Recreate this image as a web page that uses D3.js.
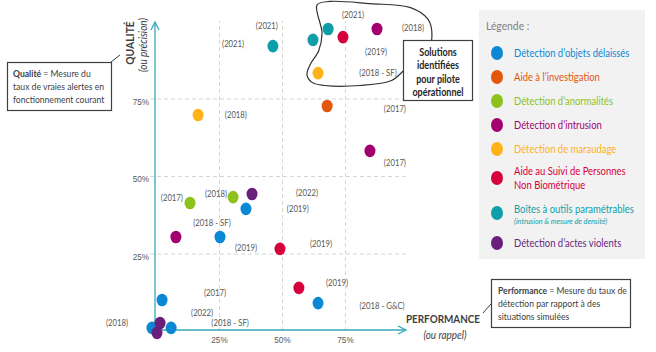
<!DOCTYPE html>
<html>
<head>
<meta charset="utf-8">
<script src="https://cdn.jsdelivr.net/npm/d3@7"></script>
<style>
  body { margin: 0; background: #fff; }
  svg { font-family: Lato, "Open Sans", sans-serif; }
  .grid line { stroke: #d6d6d6; stroke-dasharray: 4,3; }
  .grid path { display: none; }
  .tick text { fill: #595959; font-size: 9.5px; }
  .lbl { fill: #595959; font-size: 9px; }
</style>
</head>
<body>
<div id="chart"></div>
<script>

// categories (legend order) and colours
var categories = ["Détection d’objets délaissés", "Aide à l’investigation", "Détection d’anormalités",
                  "Détection d’intrusion", "Détection de maraudage",
                  "Aide au Suivi de Personnes|Non Biométrique", "Boîtes à outils paramétrables",
                  "Détection d’actes violents"];
var colors = ["#0b88d4", "#e2570c", "#8dc21c", "#a3006f", "#ffb319", "#d6003d", "#0e9ea9", "#6a1f7d"];

// points per category : [performance %, qualité %]
var objets = [[35.7, 39.4], [25.4, 30.3], [64.3, 9.0], [2.4, 10], [-1.6, 1], [6.0, 1]];
var investigation = [[67.9, 72.6]];
var anormalites = [[13.5, 41.3], [30.6, 43.2]];
var intrusion = [[87.7, 97.4], [84.9, 58.1], [7.9, 30.3]];
var maraudage = [[64.3, 83.2], [16.7, 69.7]];
var suivi = [[74.2, 94.8], [49.2, 26.5], [56.7, 13.9]];
var boites = [[46.4, 91.9], [62.3, 93.9], [68.3, 97.4]];
var violents = [[38.1, 44.2], [1.6, 2.6], [0.4, -0.6]];
var series = [objets, investigation, anormalites, intrusion, maraudage, suivi, boites, violents];

// year labels and where they sit (in % units)
var labelTexts = ["(2021)", "(2021)", "(2021)", "(2018)", "(2019)", "(2018 - SF)", "(2017)", "(2018)",
                  "(2017)", "(2017)", "(2018)", "(2022)", "(2019)", "(2018 - SF)", "(2019)", "(2019)",
                  "(2019)", "(2018 - G&C)", "(2017)", "(2022)", "(2018 - SF)", "(2018)"];
var labelPos = [[30.6, 92.6], [44.0, 98.4], [78.2, 101.9], [102.0, 97.7], [87.3, 90.0], [88.1, 83.2],
                [94.8, 71.6], [31.7, 69.7], [94.8, 54.2], [6.3, 42.9], [23.8, 44.2], [59.9, 44.5],
                [56.3, 39.4], [22.2, 34.8], [35.7, 26.8], [65.5, 28.1], [71.8, 15.5], [89.7, 8.1],
                [23.4, 12.3], [18.3, 5.8], [29.4, 2.6], [-15.5, 2.6]];

// outline around the "solutions identifiées" group (in % units)
var blob = [[63.9, 105.2], [69, 106.3], [85, 105.6], [101, 104.3], [108, 100.5], [109.5, 95],
            [107.5, 89.5], [99, 84.5], [93.5, 80.8], [81, 79.2], [67, 79.2], [61.9, 80.2],
            [59.9, 82.6], [61.1, 85.8], [64.6, 90.5], [65.9, 96.1]];

var ticks = [25, 50, 75];

var width = 656, height = 352;
var squeeze = 0.86;   // text is narrower than Lato in the original

var x = d3.scaleLinear().domain([0, 100]).range([156, 408]),
    y = d3.scaleLinear().domain([0, 100]).range([331, 21]);

var svg = d3.select("#chart").append("svg")
    .attr("width", width)
    .attr("height", height);

function narrow(node) {
  var w = node.getComputedTextLength();
  if (w > 0) d3.select(node).attr("textLength", w * squeeze).attr("lengthAdjust", "spacingAndGlyphs");
}

// grid
svg.append("g")
    .attr("class", "grid")
    .attr("transform", "translate(0," + y(0) + ")")
    .call(d3.axisBottom(x).tickValues(ticks).tickSize(-(y(0) - y(100))).tickFormat(""));

svg.append("g")
    .attr("class", "grid")
    .attr("transform", "translate(150,0)")
    .call(d3.axisLeft(y).tickValues(ticks).tickSize(-(x(100) - 150)).tickFormat(""));

// tick labels
var xAxis = svg.append("g")
    .attr("transform", "translate(0," + y(0) + ")")
    .call(d3.axisBottom(x).tickValues(ticks).tickSize(0).tickPadding(5).tickFormat(function(d) { return d + "%"; }));
xAxis.select(".domain").remove();

var yAxis = svg.append("g")
    .attr("transform", "translate(150,0)")
    .call(d3.axisLeft(y).tickValues(ticks).tickSize(0).tickPadding(1).tickFormat(function(d) { return d + "%"; }));
yAxis.select(".domain").remove();
yAxis.selectAll("text").attr("dy", "0.6em");

// axis lines with arrows
var axisColor = "#35a8b6";
var defs = svg.append("defs");
defs.append("marker")
    .attr("id", "arrow")
    .attr("viewBox", "0 0 10 10")
    .attr("refX", 9).attr("refY", 5)
    .attr("markerWidth", 10).attr("markerHeight", 10)
    .attr("markerUnits", "userSpaceOnUse")
    .attr("orient", "auto")
  .append("path")
    .attr("d", "M1,1 L9,5 L1,9")
    .attr("fill", "none")
    .attr("stroke", axisColor)
    .attr("stroke-width", 1.3);

svg.append("line")
    .attr("x1", x(0) - 1).attr("y1", y(0) - 1)
    .attr("x2", 406).attr("y2", y(0) - 1)
    .attr("stroke", axisColor).attr("stroke-width", 1.3)
    .attr("marker-end", "url(#arrow)");

svg.append("line")
    .attr("x1", x(0) - 1).attr("y1", y(0) - 1)
    .attr("x2", x(0) - 1).attr("y2", 22)
    .attr("stroke", axisColor).attr("stroke-width", 1.3)
    .attr("marker-end", "url(#arrow)");

// axis titles
svg.append("text")
    .attr("transform", "translate(134,43) rotate(-90)")
    .attr("text-anchor", "middle")
    .style("font-size", "12px").style("font-weight", "bold").style("fill", "#404040")
    .text("QUALITÉ");
svg.append("text")
    .attr("transform", "translate(147,45) rotate(-90)")
    .attr("text-anchor", "middle")
    .style("font-size", "11.5px").style("font-style", "italic").style("fill", "#404040")
    .text("(ou précision)");

svg.append("text")
    .attr("x", 443).attr("y", 323)
    .attr("text-anchor", "middle")
    .style("font-size", "11.5px").style("font-weight", "bold").style("fill", "#404040")
    .text("PERFORMANCE");
svg.append("text")
    .attr("x", 445).attr("y", 339)
    .attr("text-anchor", "middle")
    .style("font-size", "11.5px").style("font-style", "italic").style("fill", "#404040")
    .text("(ou rappel)");

// blob
svg.append("path")
    .datum(blob)
    .attr("d", d3.line().x(function(d) { return x(d[0]); }).y(function(d) { return y(d[1]); })
        .curve(d3.curveCatmullRomClosed.alpha(0.5)))
    .attr("fill", "none")
    .attr("stroke", "#333")
    .attr("stroke-width", 1.2);

// year labels
svg.selectAll(".lbl")
    .data(labelTexts)
    .enter().append("text")
      .attr("class", "lbl")
      .attr("x", function(d, i) { return x(labelPos[i][0]); })
      .attr("y", function(d, i) { return y(labelPos[i][1]); })
      .attr("dy", "0.35em")
      .attr("text-anchor", "middle")
      .text(function(d) { return d; });

// points
series.forEach(function(pts, k) {
  svg.append("g").selectAll("ellipse")
    .data(pts)
    .enter().append("ellipse")
      .attr("cx", function(d) { return x(d[0]); })
      .attr("cy", function(d) { return y(d[1]); })
      .attr("rx", 5.5)
      .attr("ry", 6.3)
      .attr("fill", colors[k]);
});

// callout boxes
function callout(bx, by, bw, bh, line) {
  if (line) svg.append("line")
      .attr("x1", line[0]).attr("y1", line[1]).attr("x2", line[2]).attr("y2", line[3])
      .attr("stroke", "#404040").attr("stroke-width", 1);
  svg.append("rect")
      .attr("x", bx).attr("y", by).attr("width", bw).attr("height", bh)
      .attr("fill", "#fff").attr("stroke", "#404040").attr("stroke-width", 1.2);
}

// box text: one text element per box, squeezed with a transform
function boxLines(x0, y0, lines) {
  var t = svg.append("g")
      .attr("class", "scaled")
      .attr("transform", "translate(" + x0 + "," + y0 + ") scale(" + squeeze + ",1)")
    .append("text")
      .style("font-size", "10px").style("fill", "#404040");
  lines.forEach(function(l, i) {
    var first = t.append("tspan").attr("x", 0).attr("y", i * 13);
    if (l[0]) {
      first.style("font-weight", "bold").text(l[0]);
      t.append("tspan").text(l[1]);
    } else {
      first.text(l[1]);
    }
  });
}

callout(7.5, 62.5, 104, 48, [111, 62, 120, 55]);
boxLines(13, 77, [["Qualité", " = Mesure du"], ["", "taux de vraies alertes en"], ["", "fonctionnement courant"]]);

callout(403.5, 40.5, 69, 60, null);
["Solutions", "identifiées", "pour pilote", "opérationnel"].forEach(function(t, i) {
  svg.append("text").attr("text-anchor", "middle")
      .attr("x", 438).attr("y", 56 + i * 13.3)
      .style("font-size", "10.5px").style("font-weight", "bold").style("fill", "#262626")
      .text(t);
});

callout(491.5, 279.5, 139, 48, [491, 304, 483, 313]);
boxLines(498, 294, [["Performance", " = Mesure du taux de"], ["", "détection par rapport à des"], ["", "situations simulées"]]);

// legend
var legend = svg.append("g");
legend.append("rect")
    .attr("x", 479).attr("y", 10).attr("width", 166).attr("height", 249)
    .attr("fill", "#f2f2f2");
legend.append("text")
    .attr("x", 486).attr("y", 30)
    .style("font-size", "12px").style("fill", "#7f7f7f")
    .text("Légende :");

var legendY = [53, 77, 101, 125, 149, 178, 213, 243];
categories.forEach(function(c, i) {
  var g = legend.append("g").attr("transform", "translate(0," + legendY[i] + ")");
  g.append("ellipse").attr("cx", 497).attr("cy", 0).attr("rx", 6).attr("ry", 7).attr("fill", colors[i]);
  var lines = c.split("|");
  if (lines.length > 1) {
    lines.forEach(function(l, j) {
      g.append("text").attr("x", 514).attr("y", -3 + j * 14)
          .style("font-size", "11px").style("fill", colors[i]).text(l);
    });
  } else if (i === 6) {
    g.append("text").attr("x", 514).attr("y", 0)
        .style("font-size", "11px").style("fill", colors[i]).text(lines[0]);
    g.append("text").attr("x", 514).attr("y", 11)
        .style("font-size", "8.5px").style("font-style", "italic").style("fill", colors[i])
        .text("(intrusion & mesure de densité)");
  } else {
    g.append("text").attr("x", 514).attr("y", 4)
        .style("font-size", "11px").style("fill", colors[i]).text(lines[0]);
  }
});

// narrow every other text a little (the original uses a condensed face)
svg.selectAll("text").each(function() {
  if (this.parentNode.getAttribute("class") === "scaled") return;
  narrow(this);
});

</script>
</body>
</html>
